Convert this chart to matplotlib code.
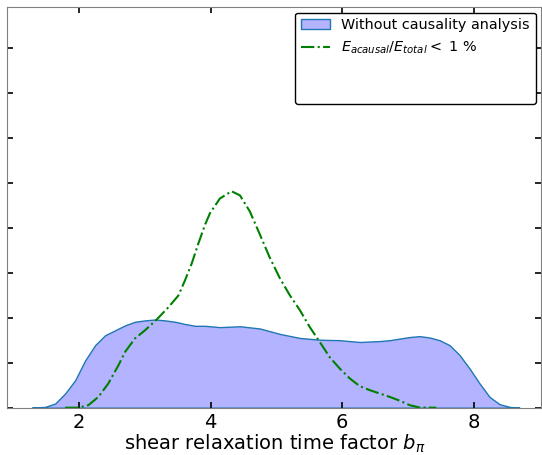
import numpy as np
import matplotlib.pyplot as plt

# curves (density vs b_pi)
b_all = [1.282, 1.484, 1.636, 1.787, 1.939, 2.091, 2.243, 2.395, 2.547, 2.699, 2.850,
         3.002, 3.154, 3.306, 3.458, 3.610, 3.762, 3.913, 4.141, 4.445, 4.749, 5.052,
         5.356, 5.660, 5.964, 6.267, 6.571, 6.723, 7.027, 7.178, 7.330, 7.482, 7.634,
         7.786, 7.938, 8.090, 8.242, 8.394, 8.546, 8.697]
d_all = [0.0, 0.0018, 0.0093, 0.0316, 0.061, 0.105, 0.139, 0.161, 0.172, 0.183, 0.191,
         0.194, 0.196, 0.194, 0.191, 0.186, 0.182, 0.182, 0.179, 0.181, 0.176, 0.164,
         0.155, 0.151, 0.150, 0.146, 0.148, 0.150, 0.157, 0.159, 0.156, 0.150, 0.139,
         0.117, 0.087, 0.054, 0.024, 0.0078, 0.0018, 0.0]

b_causal = [1.787, 1.99, 2.141, 2.293, 2.445, 2.597, 2.699, 2.850, 3.002, 3.180, 3.356,
            3.508, 3.610, 3.711, 3.811, 3.913, 3.989, 4.141, 4.319, 4.445, 4.597, 4.749,
            4.901, 5.052, 5.204, 5.356, 5.508, 5.660, 5.812, 5.964, 6.116, 6.267, 6.419,
            6.571, 6.723, 6.875, 7.027, 7.178, 7.432]
d_causal = [0.0, 0.0, 0.0056, 0.024, 0.054, 0.094, 0.124, 0.154, 0.172, 0.196, 0.223,
            0.249, 0.283, 0.320, 0.364, 0.406, 0.432, 0.465, 0.481, 0.472, 0.436, 0.385,
            0.333, 0.288, 0.250, 0.217, 0.179, 0.146, 0.112, 0.087, 0.065, 0.048, 0.039,
            0.0316, 0.024, 0.0156, 0.0056, 0.0004, 0.0]

fig = plt.figure(figsize=(5.42, 4.55), dpi=100)
ax = fig.add_axes([0.0138, 0.104, 0.985, 0.881])

ax.fill_between(b_all, d_all, 0, facecolor=(0.7, 0.7, 1.0), edgecolor='#1f77b4',
                linewidth=1, label='Without causality analysis')
ax.plot(b_causal, d_causal, color='green', linestyle='-.', linewidth=1.5,
        label=r'$E_{acausal}/E_{total} <$ 1 %')
ax.plot([], [], color='none', label=' ')
ax.plot([], [], color='none', label=' ')

ax.set_xlim(0.91, 9.03)
ax.set_ylim(0, 0.891)
ax.set_xticks([2, 4, 6, 8])
ax.set_yticks(np.arange(0, 0.85, 0.1))
ax.set_yticklabels([])
ax.tick_params(direction='in', top=True, right=True, labelsize=14, width=1.2, length=4)
for s in ax.spines.values():
    s.set_color('#808080')

ax.set_xlabel(r'shear relaxation time factor $b_\pi$', fontsize=14, labelpad=1)
leg = ax.legend(loc='upper right', fontsize=10.4, fancybox=True, framealpha=1,
                bbox_to_anchor=(1.0, 1.0), borderaxespad=0.4)
leg.get_frame().set_edgecolor('black')

fig.savefig('out.png', dpi=100)
